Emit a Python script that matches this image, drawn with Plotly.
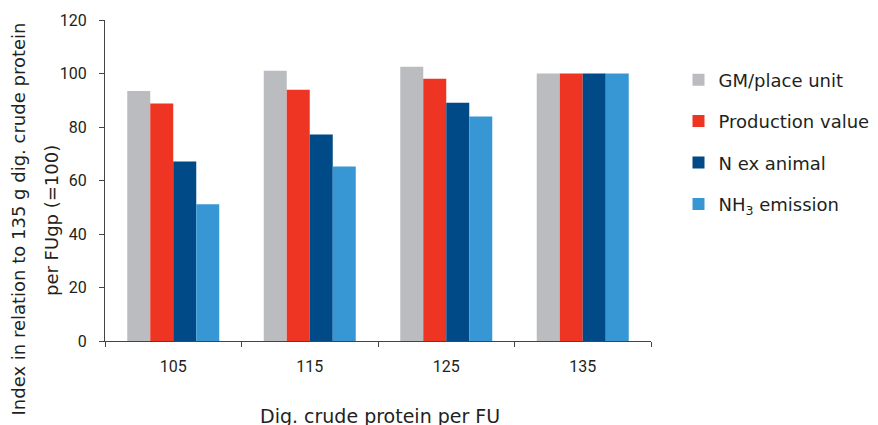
import plotly.graph_objects as go

categories = ["105", "115", "125", "135"]
series_names = ["GM/place unit", "Production value", "N ex animal", "NH<sub>3</sub> emission"]
gm_place_unit = [93.5, 101.0, 102.5, 100]
production_value = [88.8, 93.9, 98.0, 100]
n_ex_animal = [67.1, 77.2, 89.1, 100]
nh3_emission = [51.1, 65.2, 83.9, 100]
colors = ["#BBBCC0", "#EE3524", "#004A87", "#3797D5"]
y_title_line1 = "Index in relation to 135 g dig. crude protein"
y_title_line2 = "per FUgp (=100)"
x_title = "Dig. crude protein per FU"

values = [gm_place_unit, production_value, n_ex_animal, nh3_emission]

fig = go.Figure()
for i, (name, vals, col) in enumerate(zip(series_names, values, colors)):
    fig.add_trace(go.Bar(x=categories, y=vals, name=name, marker_color=col,
                         marker_line_width=0, legendgroup=str(i)))

font_family = "'DejaVu Sans', sans-serif"
tick_family = "Roboto, 'DejaVu Sans', sans-serif"
OX, OY = 8, 8  # page body margin offsets
W, H = 878 - OX, 425 - OY
L, R, T, B = 105 - OX, 651 - OX, 20 - OY, 341 - OY

def px_x(p):
    return (p - OX - L) / (R - L)

def px_y(p):
    return (B - (p - OY)) / (B - T)

fig.update_layout(
    width=W, height=H,
    margin=dict(l=L, r=W - R, t=T, b=H - B, autoexpand=False),
    paper_bgcolor="white", plot_bgcolor="white",
    barmode="group", bargap=0.326, bargroupgap=0,
    font=dict(family=font_family, color="#231F20", size=15),
    legend=dict(x=px_x(678.5), y=px_y(61.5), xanchor="left", yanchor="top",
                font=dict(size=18), traceorder="grouped", tracegroupgap=15),
    xaxis=dict(
        automargin=False,
        showline=True, linecolor="#444", linewidth=1,
        ticks="outside", tickson="boundaries", ticklen=5, tickcolor="#444",
        tickfont=dict(size=16, family=tick_family), ticklabelstandoff=11,
    ),
    yaxis=dict(
        automargin=False,
        range=[0, 120], dtick=20, showgrid=False, zeroline=False,
        showline=True, linecolor="#444", linewidth=1,
        ticks="outside", ticklen=5, tickcolor="#444",
        tickfont=dict(size=16, family=tick_family), ticklabelstandoff=9,
    ),
    annotations=[
        dict(text=y_title_line1, xref="paper", yref="paper",
             x=px_x(18), y=px_y(219.5), textangle=-90, showarrow=False,
             xanchor="center", yanchor="middle", font=dict(size=18)),
        dict(text=y_title_line2, xref="paper", yref="paper",
             x=px_x(51), y=px_y(221), textangle=-90, showarrow=False,
             xanchor="center", yanchor="middle", font=dict(size=18)),
        dict(text=x_title, xref="paper", yref="paper",
             x=px_x(380), y=px_y(416), showarrow=False,
             xanchor="center", yanchor="middle", font=dict(size=19)),
    ],
)

fig.write_html("out.html")
